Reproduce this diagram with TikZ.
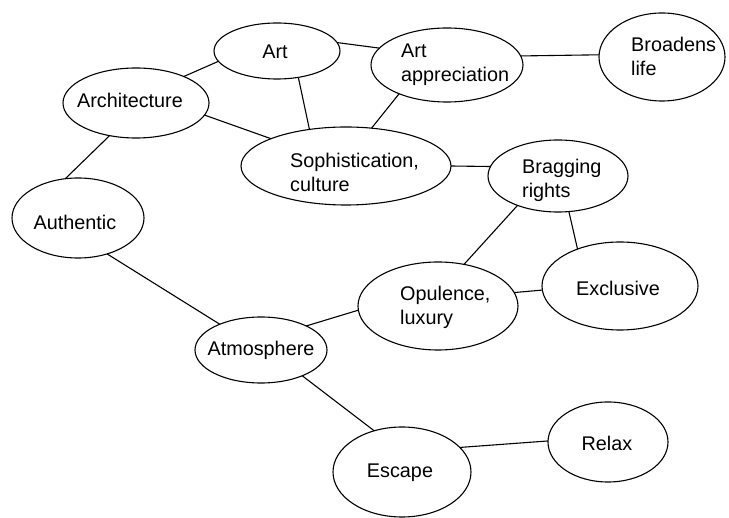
\documentclass[tikz,border=0pt]{standalone}
\usepackage{fontspec}
\setmainfont{Liberation Sans}
\usetikzlibrary{shapes.geometric}
\tikzset{
  ell/.style={draw, ellipse, line width=1.1pt, inner sep=0pt, outer sep=0pt},
  lbl/.style={inner sep=0pt, align=left, font=\fontsize{19.8}{24}\selectfont},
  conn/.style={line width=1.1pt}}
\begin{document}
\begin{tikzpicture}[x=1pt,y=-1pt]
\useasboundingbox (0,0) rectangle (729,518);
% ellipses
\node[ell, minimum width=126pt, minimum height=56pt]  (A) at (277,51) {};
\node[ell, minimum width=152pt, minimum height=74pt]  (P) at (447,65) {};
\node[ell, minimum width=126pt, minimum height=88pt]  (B) at (662,57) {};
\node[ell, minimum width=146pt, minimum height=70pt]  (R) at (136,103) {};
\node[ell, minimum width=210pt, minimum height=78pt]  (S) at (346,166) {};
\node[ell, minimum width=140pt, minimum height=72pt]  (G) at (558,176) {};
\node[ell, minimum width=132pt, minimum height=80pt]  (U) at (78,218) {};
\node[ell, minimum width=156pt, minimum height=88pt]  (X) at (620,286) {};
\node[ell, minimum width=160pt, minimum height=88pt]  (O) at (438,306) {};
\node[ell, minimum width=132pt, minimum height=66pt]  (M) at (261,350) {};
\node[ell, minimum width=138pt, minimum height=90pt]  (E) at (402,472) {};
\node[ell, minimum width=120pt, minimum height=80pt]  (L) at (608,442) {};
% labels
\node[lbl] (tA) at (275,52) {Art};
\node[lbl] (tR) at (130,100) {Architecture};
\node[lbl] (tU) at (75,222) {Authentic};
\node[lbl, anchor=west] (tS) at (290,172) {Sophistication,\\culture};
\node[lbl, anchor=west] (tP) at (401,65) {Art\\appreciation};
\node[lbl, anchor=west] (tB) at (631,56) {Broadens\\life};
\node[lbl, anchor=west] (tG) at (522,180) {Bragging\\rights};
\node[lbl] (tX) at (618,288) {Exclusive};
\node[lbl, anchor=west] (tO) at (400,307) {Opulence,\\luxury};
\node[lbl] (tM) at (261,350) {Atmosphere};
\node[lbl] (tE) at (400,473) {Escape};
\node[lbl] (tL) at (607,443) {Relax};
% connectors
\draw[conn] (R.29) -- (A.190);
\draw[conn] (A.8) -- (P.166.5);
\draw[conn] (A.-51.6) -- (S.135.7);
\draw[conn] (R.-10.2) -- (S.160.5);
\draw[conn] (P.211.5) -- (S.56.3);
\draw[conn] (P.7.5) -- (B.178);
\draw[conn] (S.0) -- (G.172);
\draw[conn] (R.231) -- (U.108.9);
\draw[conn] (G.216.4) -- (O.58.6);
\draw[conn] (G.-73.4) -- (X.139);
\draw[conn] (O.10.8) -- (X.183.7);
\draw[conn] (U.-51.5) -- (M.148.7);
\draw[conn] (M.28.3) -- (O.183.3);
\draw[conn] (M.-32.4) -- (E.124.9);
\draw[conn] (E.23) -- (L.179);
\end{tikzpicture}
\end{document}
